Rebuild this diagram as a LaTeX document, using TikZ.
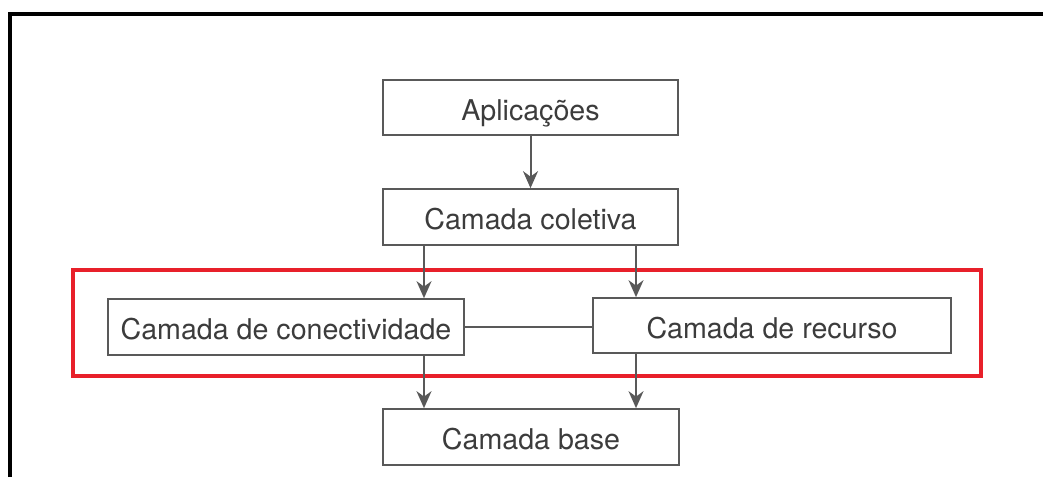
\documentclass[tikz,border=0pt]{standalone}
\usepackage{fontspec}
\setmainfont{TeX Gyre Heros}
\usetikzlibrary{arrows.meta}
\definecolor{linegray}{HTML}{595959}
\definecolor{textgray}{HTML}{3C3C3C}
\definecolor{framered}{HTML}{E8202A}
\newcommand{\lbl}[1]{\raisebox{-2.5pt}{#1}}
\begin{document}
\begin{tikzpicture}[x=1pt,y=-1pt,
  layer/.style={draw=linegray, line width=1.7pt, rectangle, inner sep=0pt,
    text height=20pt, text depth=0pt,
    text=textgray, font=\fontsize{28.6}{32}\selectfont},
  arr/.style={draw=linegray, line width=2pt, -{Stealth[length=17pt,width=15pt,inset=5.5pt]}},
  link/.style={draw=linegray, line width=1.7pt}]
\useasboundingbox (0,0) rectangle (1043,477);
\fill[white] (0,0) rectangle (1043,477);
\draw[line width=4pt, black] (10,477) -- (10,14) -- (1043,14);
\node[draw=framered, line width=3.5pt, rectangle, minimum width=908pt, minimum height=106pt, inner sep=0pt] (frame) at (527,323) {};
\node[layer, minimum width=295pt, minimum height=55pt] (apl) at (530.5,107.5) {\lbl{Aplicações}};
\node[layer, minimum width=295pt, minimum height=56pt] (col) at (530.5,217) {\lbl{Camada coletiva}};
\node[layer, minimum width=356pt, minimum height=56pt] (con) at (286,327) {\lbl{Camada de conectividade}};
\node[layer, minimum width=358pt, minimum height=55pt] (rec) at (772,325.5) {\lbl{Camada de recurso}};
\node[layer, minimum width=296pt, minimum height=56pt] (bas) at (531,437) {\lbl{Camada base}};
\coordinate (xl) at (424,0);
\coordinate (xr) at (636,0);
\draw[arr] (apl.south) -- (col.north);
\draw[arr] (col.south -| xl) -- (con.north -| xl);
\draw[arr] (col.south -| xr) -- (rec.north -| xr);
\draw[arr] (con.south -| xl) -- (bas.north -| xl);
\draw[arr] (rec.south -| xr) -- (bas.north -| xr);
\draw[link] (con.east) -- (rec.west |- con.east);
\end{tikzpicture}
\end{document}
